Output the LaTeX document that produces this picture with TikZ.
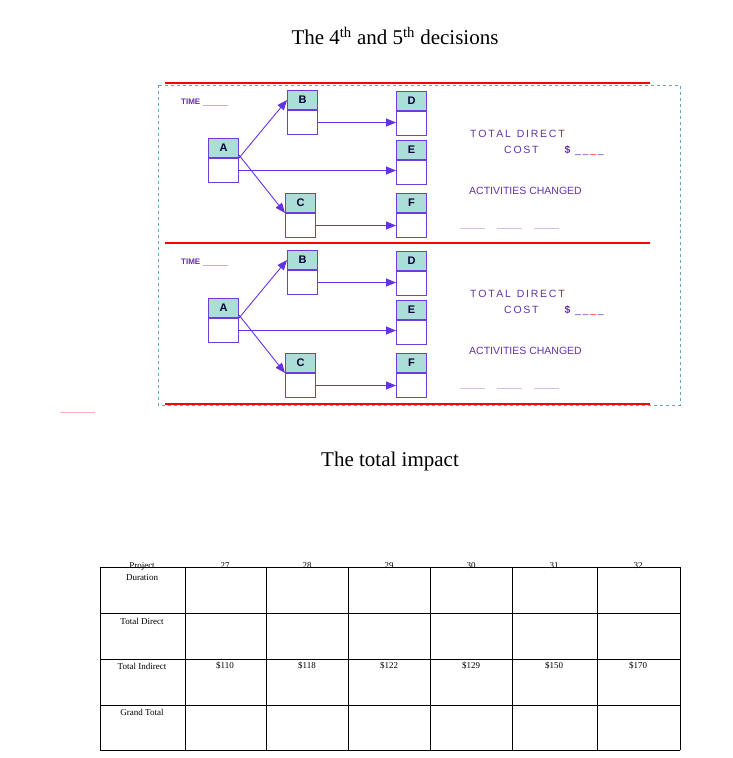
\documentclass[tikz,border=0pt]{standalone}
\usepackage{fontspec}
\setmainfont{Liberation Serif}
\newfontfamily\arial{Liberation Sans}
\usetikzlibrary{arrows.meta}
\definecolor{boxc}{RGB}{110,60,220}
\definecolor{hdr}{RGB}{170,222,215}
\definecolor{arr}{RGB}{100,50,230}
\definecolor{txtc}{RGB}{100,50,170}
\tikzset{
 hbox/.style={draw=boxc,line width=1pt,fill=hdr,minimum width=30pt,minimum height=19pt,inner sep=0pt,font=\arial\bfseries\fontsize{11}{11}\selectfont,text=black!80!blue},
 bbox/.style={draw=boxc,line width=1pt,fill=white,minimum width=30pt,minimum height=24pt,inner sep=0pt},
 con/.style={draw=arr,line width=0.9pt,-{Triangle[length=10pt,width=8pt]}},
 redl/.style={draw=red,line width=2pt},
 lbl/.style={font=\arial\fontsize{10.5}{11}\selectfont,text=txtc,inner sep=0pt},
 cell/.style={font=\fontsize{9}{10}\selectfont,inner sep=0pt},
 ttl/.style={font=\fontsize{21}{24}\selectfont,inner sep=0pt}
}
\newcommand{\actbox}[4]{%
 \node[hbox,anchor=north west] (#1) at (#3,#4) {#2};
 \node[bbox,anchor=north] (#1b) at (#1.south) {};}
\begin{document}
\begin{tikzpicture}[x=1pt,y=-1pt]
\useasboundingbox (0,0) rectangle (733,758);
\node[ttl] (t1) at (395,36) {The 4\textsuperscript{th} and 5\textsuperscript{th} decisions};
\draw[cyan!50!gray,dashed,line width=0.5pt] (158,85) rectangle (680,405);
\draw[red!30,line width=1pt] (60,412) -- (95,412);
\foreach \p/\o in {1/0,2/160}{
 \begin{scope}[yshift=-\o pt]
 \draw[redl] (165,83) -- (650,83);
 \actbox{A\p}{A}{208}{138}
 \actbox{B\p}{B}{287}{90}
 \actbox{C\p}{C}{285}{193}
 \actbox{D\p}{D}{396}{91}
 \actbox{E\p}{E}{396}{140}
 \actbox{F\p}{F}{396}{193}
 \draw[con] (A\p.south east) -- (B\p.west);
 \draw[con] (A\p b.east) -- (A\p b.east -| E\p.west);
 \draw[con] (A\p b.north east) ++(0,-3) -- (C\p.south west);
 \draw[con] (B\p b.east) -- (B\p b.east -| D\p.west);
 \draw[con] (C\p b.east) -- (C\p b.east -| F\p.west);
 \node[lbl,font=\arial\bfseries\fontsize{8}{9}\selectfont,anchor=west] (time\p) at (181,102) {TIME \textcolor{txtc!40}{\rule[-1pt]{25pt}{0.5pt}}};
 \node[lbl,anchor=west] (tdc\p) at (470,134) {T\,O\,T\,A\,L\; D\,I\,R\,E\,C\,T};
 \node[lbl,anchor=west] (cost\p) at (504,151) {C\,O\,S\,T\hspace{26pt}\textbf{\$}\, \_\,\_\,\textcolor{red}{\_}\,\_};
 \node[lbl,anchor=west] (act\p) at (469,191) {ACTIVITIES CHANGED};
 \node[lbl,text=txtc!30,anchor=west] (dash\p) at (460,228) {\rule{25pt}{0.5pt}\hspace{12pt}\rule{25pt}{0.5pt}\hspace{12pt}\rule{25pt}{0.5pt}};
 \end{scope}}
\draw[redl] (165,404) -- (650,404);
\node[ttl] (t2) at (390,461) {The total impact};
% table
\foreach \x in {100,185,266,348,430,512,597,680} \draw[line width=0.7pt] (\x,567) -- (\x,750);
\foreach \y in {567,613,659,705,750} \draw[line width=0.7pt] (100,\y) -- (680,\y);
\node[cell] (p1) at (142,566) {Project};
\node[cell] (p2) at (142,578) {Duration};
\foreach \v/\x in {27/225,28/307,29/389,30/471,31/554,32/638} \node[cell] at (\x,566) {\v};
\node[cell] (r2) at (142,621) {Total Direct};
\node[cell] (r3) at (142,666) {Total Indirect};
\node[cell] (r4) at (142,712) {Grand Total};
\foreach \v/\x in {110/225,118/307,122/389,129/471,150/554,170/638} \node[cell] at (\x,666) {\$\v};
\end{tikzpicture}
\end{document}
